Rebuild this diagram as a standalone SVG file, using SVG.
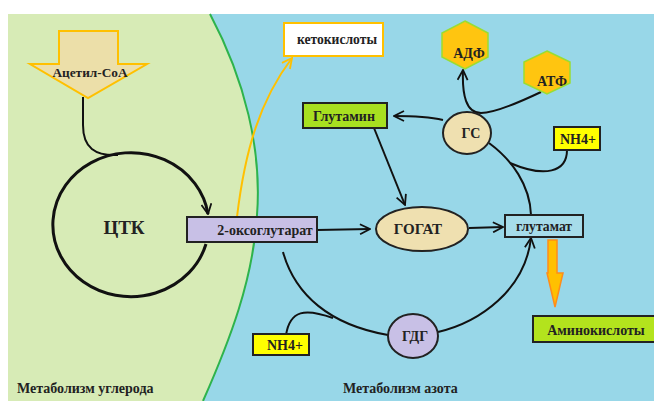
<svg xmlns="http://www.w3.org/2000/svg" width="654" height="401" viewBox="0 0 654 401">
<defs>
<style>
text{font-family:"Liberation Serif","Times New Roman",serif;font-weight:bold;fill:#222;text-anchor:middle}
.ln{fill:none;stroke:#111;stroke-width:2}
.box{stroke:#222;stroke-width:2}
</style>
<marker id="ah" viewBox="0 0 12 12" refX="11" refY="6" markerWidth="12" markerHeight="12" markerUnits="userSpaceOnUse" orient="auto">
<polyline points="1,1 11,6 1,11" fill="none" stroke="#111" stroke-width="1.8"/>
</marker>
<marker id="ahy" viewBox="0 0 12 12" refX="11" refY="6" markerWidth="12" markerHeight="12" markerUnits="userSpaceOnUse" orient="auto">
<polyline points="1,1 11,6 1,11" fill="none" stroke="#ffc000" stroke-width="1.8"/>
</marker>
</defs>
<rect x="0" y="0" width="654" height="401" fill="#ffffff"/>
<g id="background">
<rect x="8" y="14" width="646" height="387" fill="#98d7e8"/>
<path d="M8,14 L210,14 C245,80 262,150 257,215 C253,280 230,340 203,401 L8,401 Z" fill="#d7ebb6"/>
<path d="M210,14 C245,80 262,150 257,215 C253,280 230,340 203,401" fill="none" stroke="#2eb34c" stroke-width="2"/>
</g>
<g id="connectors">
<path class="ln" d="M83,97 L83,125 C83,148 95,156 118,155"/>
<path class="ln" style="stroke-width:3" d="M206,244 A78,72 0 1 1 208,214" marker-end="url(#ah)"/>
<path d="M237,217 C245,150 260,100 292,58" fill="none" stroke="#ffc000" stroke-width="2" marker-end="url(#ahy)"/>
<path class="ln" d="M317,230 L370,229" marker-end="url(#ah)"/>
<path class="ln" d="M469,228 L503,227" marker-end="url(#ah)"/>
<path class="ln" d="M374,128 L405,205" marker-end="url(#ah)"/>
<path class="ln" d="M443,120 C430,117 415,116 394,116" marker-end="url(#ah)"/>
<path class="ln" d="M541,92 C520,102 495,113 481,113 C466,113 462,95 463,70" marker-end="url(#ah)"/>
<path class="ln" d="M489,143 C512,160 530,185 531,215"/>
<path class="ln" d="M567,150 C567,172 545,178 510,163"/>
<path class="ln" d="M283,252 C295,295 330,325 388,335"/>
<path class="ln" d="M286,335 C290,310 305,308 333,318"/>
<path class="ln" d="M438,332 C480,322 525,290 531,238" marker-end="url(#ah)"/>
</g>
<g id="acetyl-coa">
<polygon points="59,31 118,31 118,64 147,64 88,98 30,64 59,64" fill="#ecdfa9" stroke="#ffc000" stroke-width="2"/>
<text x="90" y="77" font-size="13.3">Ацетил-СоА</text>
</g>
<g id="tca">
<text x="124" y="234" font-size="19">ЦТК</text>
</g>
<g id="oxoglutarate">
<rect class="box" x="187" y="217" width="130" height="25" fill="#c8c0e6"/>
<text x="265" y="235" font-size="14">2-оксоглутарат</text>
</g>
<g id="ketoacids">
<rect x="284" y="23" width="99" height="33" fill="#ffffff" stroke="#ffc000" stroke-width="2"/>
<text x="337" y="44" font-size="13.6">кетокислоты</text>
</g>
<g id="glutamine">
<rect class="box" x="303" y="103" width="84" height="25" fill="#a8e020"/>
<text x="344" y="121" font-size="14">Глутамин</text>
</g>
<g id="gs">
<ellipse class="box" cx="467" cy="133" rx="24" ry="21" fill="#efe0b0"/>
<text x="471" y="138" font-size="14">ГС</text>
</g>
<g id="adp">
<polygon points="465,21 488,33 488,57 465,69 442,57 442,33" fill="#ffc510" stroke="#99dd33" stroke-width="1.5"/>
<text x="469" y="58" font-size="14">АДФ</text>
</g>
<g id="atp">
<polygon points="547,51 570,62 570,83 547,94 524,83 524,62" fill="#ffc510" stroke="#99dd33" stroke-width="1.5"/>
<text x="552" y="86" font-size="14">АТФ</text>
</g>
<g id="nh4-top">
<rect class="box" x="554" y="127" width="46" height="23" fill="#ffff00"/>
<text x="578" y="144" font-size="14">NH4+</text>
</g>
<g id="gogat">
<ellipse class="box" cx="422" cy="229" rx="46" ry="22" fill="#efe0b0"/>
<text x="418" y="234" font-size="15">ГОГАТ</text>
</g>
<g id="glutamate">
<rect class="box" x="505" y="215" width="78" height="22" fill="#a6dcea"/>
<text x="544" y="231" font-size="13.7">глутамат</text>
</g>
<g id="to-aminoacids">
<polygon points="548,240 557,240 557,273 563,273 555,307 547,273 548,273" fill="#ffc000" stroke="#ff8c1a" stroke-width="1.5"/>
</g>
<g id="aminoacids">
<rect class="box" x="533" y="316" width="125" height="26" fill="#b3e31d"/>
<text x="596" y="335" font-size="14">Аминокислоты</text>
</g>
<g id="gdh">
<ellipse class="box" cx="413" cy="336" rx="25" ry="22" fill="#c8c0e6"/>
<text x="415" y="341" font-size="14">ГДГ</text>
</g>
<g id="nh4-bottom">
<rect class="box" x="253" y="334" width="56" height="21" fill="#ffff00"/>
<text x="285" y="350" font-size="14">NH4+</text>
</g>
<g id="labels">
<text x="17" y="393" font-size="14" style="text-anchor:start">Метаболизм углерода</text>
<text x="343" y="393" font-size="14" style="text-anchor:start">Метаболизм азота</text>
</g>
</svg>
